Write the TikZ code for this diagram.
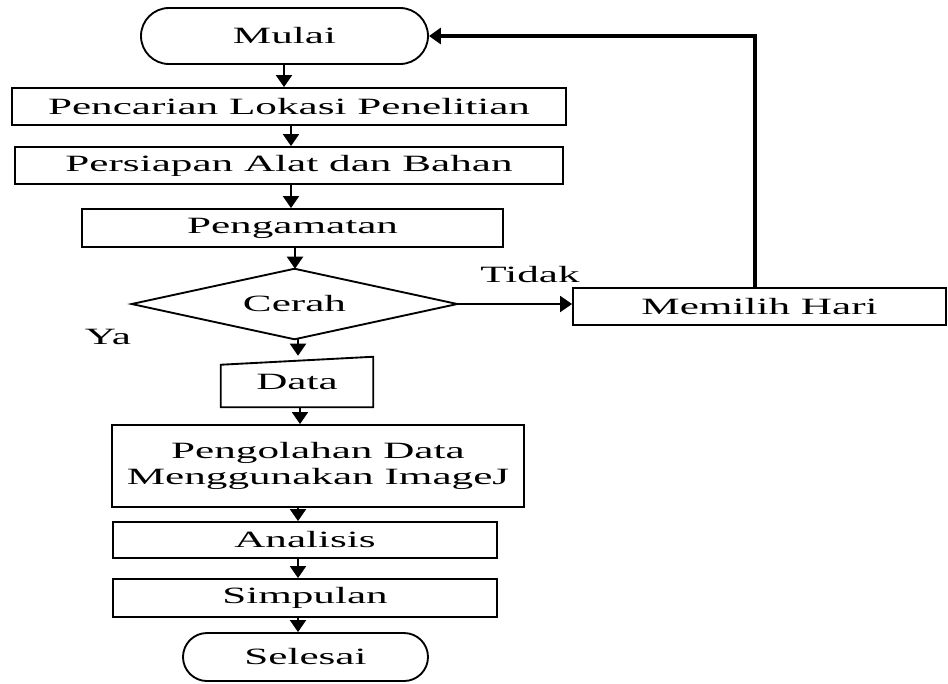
\documentclass[tikz,border=0pt]{standalone}
\usepackage{fontspec}
\usepackage{graphicx}
\setmainfont{Liberation Serif}
\usetikzlibrary{shapes.misc,arrows.meta,calc}
\newcommand{\T}[1]{\scalebox{1.85}[1]{#1}}
\begin{document}
\begin{tikzpicture}[x=0.75pt,y=-0.75pt,
  every node/.style={font=\fontsize{17.5}{19.5}\selectfont, inner sep=0pt},
  box/.style={draw, line width=1.4pt, rectangle, minimum width=#1*0.75pt},
  term/.style={draw, line width=1.4pt, rounded rectangle, minimum width=#1*0.75pt},
  arr/.style={line width=1.5pt, -{Triangle[width=12pt,length=9pt]}},
  loopline/.style={line width=2.8pt, -{Triangle[width=12pt,length=9pt]}}]
\useasboundingbox (0,0) rectangle (948,683);
% nodes
\node[term=287, minimum height=56*0.75pt] (mulai) at (284.5,36) {\T{Mulai}};
\node[box=554, minimum height=37*0.75pt] (cari) at (289,106.5) {\T{Pencarian Lokasi Penelitian}};
\node[box=548, minimum height=37*0.75pt] (siap) at (289,165.5) {\T{Persiapan Alat dan Bahan}};
\node[box=421, minimum height=38*0.75pt] (amat) at (292.5,228) {\T{Pengamatan}};
\node[minimum width=325*0.75pt, minimum height=70*0.75pt] (cerah) at (294.5,304) {\T{Cerah}};
\draw[line width=1.4pt] (cerah.west) -- (cerah.north) -- (cerah.east) -- (cerah.south) -- cycle;
\node[box=373, minimum height=37*0.75pt] (pilih) at (759.5,306.5) {\T{Memilih Hari}};
\node[minimum width=152*0.75pt, minimum height=50*0.75pt] (data) at (297,382) {\T{Data}};
\draw[line width=1.4pt] ($(data.north west)+(0,8)$) -- (data.north east) -- (data.south east) -- (data.south west) -- cycle;
\node[box=412, minimum height=82*0.75pt] (olah) at (318,466) {\T{\begin{tabular}{@{}c@{}}Pengolahan Data\\Menggunakan ImageJ\end{tabular}}};
\node[box=384, minimum height=36*0.75pt] (anal) at (305,540) {\T{Analisis}};
\node[box=384, minimum height=38*0.75pt] (simp) at (305,598) {\T{Simpulan}};
\node[term=245, minimum height=48*0.75pt] (sele) at (305.5,657) {\T{Selesai}};
% labels
\node (tidak) at (530,275) {\T{Tidak}};
\node (ya) at (108,337) {\T{Ya}};
% column coordinates
\coordinate (c1) at (284,0);
\coordinate (c2) at (291,0);
\coordinate (c3) at (295,0);
\coordinate (c4) at (298,0);
\coordinate (c5) at (300,0);
\coordinate (loopx) at (755,0);
% connectors
\draw[arr] (mulai.south -| c1) -- (cari.north -| c1);
\draw[arr] (cari.south -| c2) -- (siap.north -| c2);
\draw[arr] (siap.south -| c2) -- (amat.north -| c2);
\draw[arr] (amat.south -| c3) -- (cerah.north -| c3);
\draw[arr] (cerah.south -| c4) -- ($(data.north -| c4)+(0,-1)$);
\draw[arr] (data.south -| c5) -- (olah.north -| c5);
\draw[arr] (olah.south -| c4) -- (anal.north -| c4);
\draw[arr] (anal.south -| c4) -- (simp.north -| c4);
\draw[arr] (simp.south -| c4) -- (sele.north -| c4);
\draw[arr] (cerah.east) -- (pilih.west |- cerah.east);
\draw[loopline] (pilih.north -| loopx) -- (loopx |- mulai.east) -- (mulai.east);
\end{tikzpicture}
\end{document}
